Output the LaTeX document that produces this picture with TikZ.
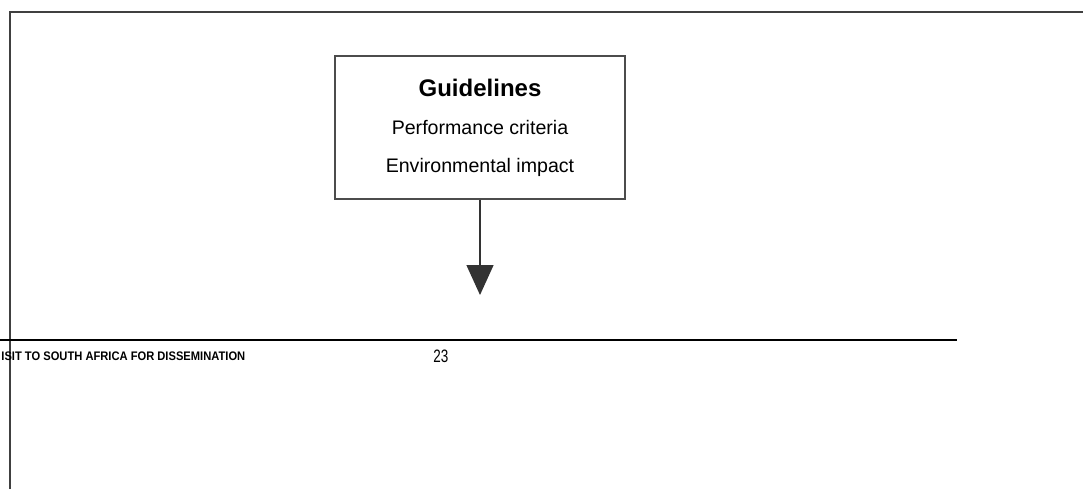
\documentclass[tikz,border=0pt]{standalone}
\usepackage{fontspec}
\setmainfont{Liberation Sans}
\usetikzlibrary{arrows.meta, positioning}

\begin{document}
\begin{tikzpicture}[
    x=0.5pt, y=-0.5pt,
    frame line/.style = {draw=black!75, line width=1.1pt},
    footer line/.style = {draw=black, line width=1.1pt},
    guide box/.style = {
        rectangle,
        draw=black!70,
        line width=0.7pt,
        minimum width=145pt,
        minimum height=71.5pt,
        align=center,
        inner sep=0pt,
        font=\fontsize{9.8}{19}\selectfont
    },
    flow arrow/.style = {-{Triangle[length=15pt, width=13.5pt]}, draw=black!80, fill=black!80, line width=0.7pt},
    footer text/.style = {inner sep=0pt, font=\fontsize{6.2}{7}\selectfont\bfseries}
]
\useasboundingbox (0,0) rectangle (1083,489);

\draw[frame line] (10,489) -- (10,12) -- (1083,12);

\node [guide box] (guide) at (480,127.5)
    {{\fontsize{12}{19}\selectfont\bfseries Guidelines}\\
     Performance criteria\\
     Environmental impact};

\coordinate (arrowend) at (480,295);
\draw[flow arrow] (guide.south) -- (arrowend);

\draw[footer line] (0,340) -- (957,340);

\node [footer text, anchor=base west] (footer) at (1,360)
    {\scalebox{0.9}[1]{ISIT TO SOUTH AFRICA FOR DISSEMINATION}};
\node [inner sep=0pt, anchor=base west, font=\fontsize{9}{10}\selectfont] (pagenum) at (433,362)
    {\scalebox{0.75}[1]{23}};

\end{tikzpicture}
\end{document}
